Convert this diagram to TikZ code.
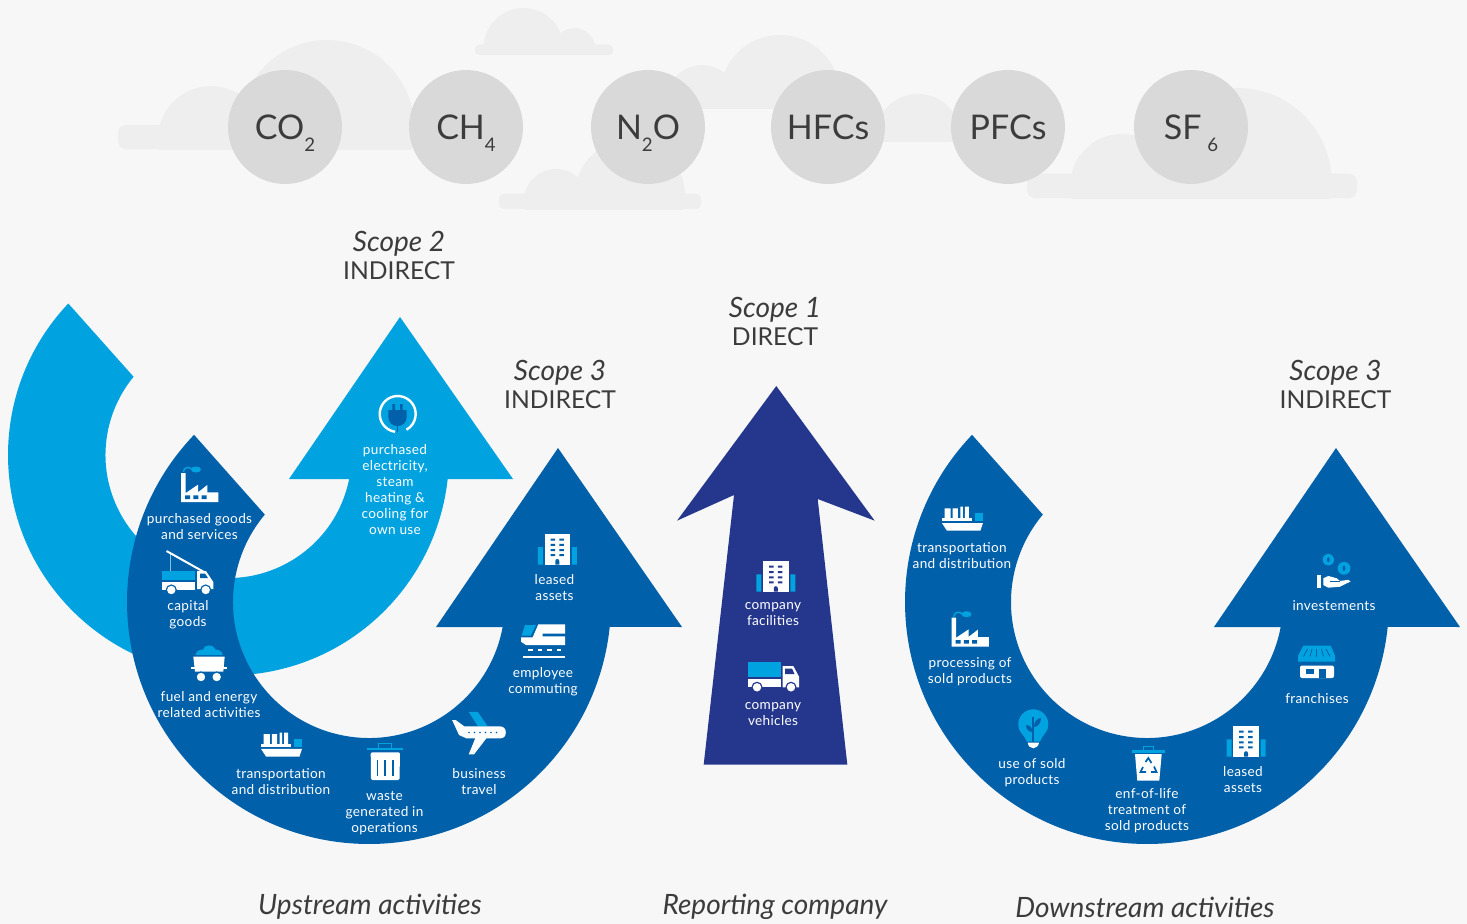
\documentclass[tikz,border=0pt]{standalone}
\usepackage{fontspec}
\setmainfont{Lato}
\newfontfamily\lblfont[LetterSpace=2.5]{Lato}
\definecolor{bgc}{HTML}{F7F7F7}
\definecolor{cloudc}{HTML}{EEEEEE}
\definecolor{gasc}{HTML}{D9D9D9}
\definecolor{txtc}{HTML}{3C3C3C}
\definecolor{darkb}{HTML}{0060AA}
\definecolor{lightb}{HTML}{00A3E0}
\definecolor{indigo}{HTML}{25378D}
\newcommand{\gassub}[1]{\smash{\raisebox{-0.36em}{\fontsize{14}{14}\selectfont #1}}}
\tikzset{
  gas/.style={circle,fill=gasc,minimum size=114*0.75pt,inner sep=0pt,text=txtc,font=\fontsize{25.5}{28}\selectfont},
  lbl/.style={text=white,align=center,inner sep=0pt,font=\lblfont\fontsize{10.2}{12}\selectfont},
  scopet/.style={text=txtc,align=center,inner sep=0pt,font=\fontsize{18.5}{21}\selectfont},
  foot/.style={text=txtc,inner sep=0pt,font=\itshape\fontsize{21}{24}\selectfont},
  cloud/.style={fill=cloudc},
  factoryicon/.pic={
    \fill[white] (0,0)--(0,-29)--(4.7,-29)--(4.7,-9)--(17,-17.3)--(17,-9.7)--(26.3,-17)--(26.3,-9.7)--(37.3,-9.7)--(37.3,0)--cycle;
    \fill[darkb] (4,-6.7) rectangle (9,-3) (12.3,-6.7) rectangle (17.3,-3) (20.7,-6.7) rectangle (25.7,-3);
    \draw[lightb,line width=1.1pt] (2.3,-30) .. controls (3,-35) and (8,-36) .. (11,-32.5);
    \fill[lightb] (15,-32.5) ellipse [x radius=5,y radius=3];
  },
  shipicon/.pic={
    \fill[white] (0,-12.3) rectangle (30,-9.7);
    \fill[white] (2.6,-22.3) rectangle (8.8,-12) (10.8,-22.3) rectangle (16,-12) (18.5,-24) rectangle (21,-12) (23,-24) rectangle (27,-12);
    \fill[lightb] (33,-17.3) rectangle (41,-9.7);
    \fill[white] (0,-7.7)--(41,-7.7)--(38.5,0)--(5,0)--cycle;
  },
  buildingicon/.pic={
    \fill[lightb] (-19.5,-17.3) rectangle (-14.5,0) (14.5,-17.3) rectangle (19.5,0);
    \fill[white] (-12.8,-31) rectangle (12.8,0);
    \foreach \yy in {-26,-20.7,-15.4,-10.3}{
      \fill[#1] (-6.8,\yy) rectangle (-2.3,\yy+2) (2,\yy) rectangle (6.5,\yy+2);}
    \fill[#1] (-2,0)--(-2,-3.5) arc[start angle=180,end angle=360,radius=2]--(2,0)--cycle;
  },
  wheelicon/.pic={
    \fill[#1] (0,0) circle (5.6);
    \fill[white] (0,0) circle (4.2);
  },
}
\begin{document}
\begin{tikzpicture}[x=0.75pt,y=-0.75pt]
\path[use as bounding box,fill=bgc] (0,0) rectangle (1467,924);

% clouds
\begin{scope}
  \clip (0,0) rectangle (1467,149);
  \fill[cloud] (327,127) circle (87);
  \fill[cloud] (211,139) circle (53);
\end{scope}
\fill[cloud,rounded corners=8*0.75pt] (118,125) rectangle (416,149);
\begin{scope}
  \clip (0,0) rectangle (1467,55);
  \fill[cloud] (523.6,48) circle (40);
  \fill[cloud] (574.5,49) circle (21);
\end{scope}
\fill[cloud,rounded corners=4*0.75pt] (475,44.7) rectangle (613,55);
\begin{scope}
  \clip (0,0) rectangle (1467,209);
  \fill[cloud] (630,195) circle (55);
  \fill[cloud] (556,201) circle (32);
\end{scope}
\fill[cloud,rounded corners=5*0.75pt] (499,193.7) rectangle (701,209);
\begin{scope}
  \clip (0,0) rectangle (1467,108);
  \fill[cloud] (780,95) circle (60);
  \fill[cloud] (702,100) circle (35);
\end{scope}
\fill[cloud] (690,95) rectangle (800,108);
\begin{scope}
  \clip (0,0) rectangle (1467,141);
  \fill[cloud] (918,137) circle (43);
\end{scope}
\begin{scope}
  \clip (0,0) rectangle (1467,198);
  \fill[cloud] (1237.6,182) circle (94);
  \fill[cloud] (1122,186) circle (52);
\end{scope}
\fill[cloud,rounded corners=8*0.75pt] (1027,173.7) rectangle (1357,198);

% gases
\node[gas] (co2) at (285,127) {CO\gassub{2}};
\node[gas] (ch4) at (466,127) {CH\gassub{4}};
\node[gas] (n2o) at (648,127) {N\gassub{2}O};
\node[gas] (hfc) at (828,127) {HFCs};
\node[gas] (pfc) at (1008,127) {PFCs};
\node[gas] (sf6) at (1191,127) {SF\,\gassub{6}};

% light arrow
\fill[lightb] ([shift={(228.5,455)}]223.4:220.5) arc[start angle=223.4,end angle=6.25,radius=220.5]
  -- (513,479) -- (400,317) -- (289,479) -- (351,479)
  -- ([shift={(228.5,455)}]11.2:123) arc[start angle=11.2,end angle=219.5,radius=123] -- cycle;

% dark U arrows
\foreach \sx/\nm in {0/u,778/d}{
\begin{scope}[shift={(\sx,0)}]
\fill[darkb] ([shift={(369,602)}]223.7:242) arc[start angle=223.7,end angle=5.9,radius=242]
  -- (682,627) -- (558,448) -- (436,627) -- (503.5,627)
  -- ([shift={(369,602)}]10.6:136) arc[start angle=10.6,end angle=220,radius=136] -- cycle;
\end{scope}}

% central arrow
\fill[indigo] (776.3,386)--(874.7,520.7)--(817.7,499)--(847.3,764.5)--(703.7,764.5)--(734,495)--(677,520.7)--cycle;

% titles
\node[scopet] (s2) at (399,255) {{\itshape\fontsize{21}{21}\selectfont Scope 2}\\INDIRECT};
\node[scopet] (s1) at (775,321) {{\itshape\fontsize{21}{21}\selectfont Scope 1}\\DIRECT};
\node[scopet] (s3a) at (560,384) {{\itshape\fontsize{21}{21}\selectfont Scope 3}\\INDIRECT};
\node[scopet] (s3b) at (1335.5,384) {{\itshape\fontsize{21}{21}\selectfont Scope 3}\\INDIRECT};

% footers
\node[foot] (fu) at (370,907) {Upstream activities};
\node[foot] (fr) at (775,907) {Reporting company};
\node[foot] (fd) at (1145,907) {Downstream activities};

% labels
\node[lbl] (l1) at (395,490) {purchased\\electricity,\\steam\\heating \&\\cooling for\\own use};
\node[lbl] (l2) at (199.5,527) {purchased goods\\and services};
\node[lbl] (l3) at (188,615) {capital\\goods};
\node[lbl] (l4) at (209,705) {fuel and energy\\related activities};
\node[lbl] (l5) at (281,782) {transportation\\and distribution};
\node[lbl] (l6) at (384.5,813) {waste\\generated in\\operations};
\node[lbl] (l7) at (479,782) {business\\travel};
\node[lbl] (l8) at (543,682) {employee\\commuting};
\node[lbl] (l9) at (554.5,588) {leased\\assets};
\node[lbl] (l10) at (773,614) {company\\facilities};
\node[lbl] (l11) at (773,714) {company\\vehicles};
\node[lbl] (r1) at (962,556) {transportation\\and distribution};
\node[lbl] (r2) at (970,672) {processing of\\sold products};
\node[lbl] (r3) at (1032,773) {use of sold\\products};
\node[lbl] (r4) at (1147,811) {enf-of-life\\treatment of\\sold products};
\node[lbl] (r5) at (1243,780) {leased\\assets};
\node[lbl] (r6) at (1317,699) {franchises};
\node[lbl] (r7) at (1334,606) {investements};

% plug icon
\draw[white,line width=1.8pt] ([shift={(397.7,414)}]98.6:18) arc[start angle=98.6,end angle=421,radius=18];
\fill[darkb] (392.3,404) rectangle (395,410) (400,404) rectangle (402.7,410);
\fill[darkb] (388.3,410)--(406.7,410)--(406.7,417) .. controls (406.7,423) and (402,426) .. (397.5,426) .. controls (393,426) and (388.3,423) .. (388.3,417)--cycle;
\fill[darkb] (396.6,425) rectangle (398.4,431.7);

% icons repeated
\pic at (181,502) {factoryicon};
\pic at (951.5,646.7) {factoryicon};
\pic at (261,756.5) {shipicon};
\pic at (941.9,530.7) {shipicon};
\pic at (557.3,564.5) {buildingicon=darkb};
\pic at (1246,756.7) {buildingicon=darkb};
\pic at (775.8,591.7) {buildingicon=indigo};

% capital goods truck
\draw[gasc!60!lightb,line width=0.7pt] (170,553) -- (170,571);
\draw[white,line width=1.5pt] (166.5,551) -- (204,572);
\fill[lightb] (162,571) rectangle (195,580);
\fill[white] (162,582) rectangle (195,590);
\fill[white] (197,571)--(206,571)--(213.3,582)--(213.3,589)--(197,589)--cycle;
\fill[darkb] (200,573.5)--(205,573.5)--(208,578)--(200,578)--cycle;
\pic at (171.3,590) {wheelicon=darkb};
\pic at (205.7,590) {wheelicon=darkb};

% company truck
\fill[lightb] (748,662) rectangle (781,677.3);
\fill[white] (748,679.3) rectangle (781,687.3);
\fill[white] (782.7,666)--(793.3,666)--(799,676.7)--(799,687.3)--(782.7,687.3)--cycle;
\fill[indigo] (785,668.5)--(792,668.5)--(794.5,674)--(785,674)--cycle;
\pic at (757,687.3) {wheelicon=indigo};
\pic at (791,687.3) {wheelicon=indigo};

% mine cart
\fill[lightb] (195.7,655) .. controls (196,650) and (201,650) .. (203,649.5) .. controls (204,644) and (214,644) .. (215.5,649.5) .. controls (218,649.5) and (222.5,651) .. (222.7,655) -- cycle;
\fill[white] (193.3,656.7)--(224.7,656.7)--(223.3,671.7)--(195,671.7)--cycle;
\fill[white] (191,667) rectangle (227,668.7);
\pic at (201,677) {wheelicon=darkb};
\pic at (216.7,677) {wheelicon=darkb};

% plane
\fill[lightb] (468.7,711.8)--(477.7,711.8)--(487.5,726)--(477.7,726)--cycle;
\fill[white] (452.2,720.2)--(456,720.2)--(464.3,726.4)--(500,726.4) .. controls (504,726.4) and (505.8,729) .. (505.8,732.5) .. controls (505.8,736) and (504,738.4) .. (500,738.4)--(466.5,738.4)--(459,735)--cycle;
\fill[white] (475.4,738)--(486.6,738)--(474,754.4)--(468.7,754.4)--cycle;
\foreach \xx in {469,474.5,480,485.5,491,496.5}{\fill[darkb] (\xx,732.5) circle (0.9);}

% train
\fill[lightb] (525,625)--(536,625)--(530.7,635.7)--(521.7,635.7)--cycle;
\fill[white] (538.3,624.3)--(565,624.3)--(565,633.7)--(542.7,633.7)--(542.7,636.3)--(565,636.3)--(565,645)--(526,645)--(521,641.7)--(521,637.3)--(532.7,637.3)--cycle;
\foreach \xx in {528.3,537.7,547.3,556.7}{\fill[white] (\xx,649) rectangle (\xx+4.4,651);}
\fill[white] (522.7,655.7) rectangle (565,657.7);

% bin
\fill[lightb] (366.5,748.3) rectangle (403.3,750);
\draw[lightb,line width=0.9pt] (378.3,748.3) -- (378.3,743.5) -- (391.7,743.5) -- (391.7,748.3);
\fill[white,rounded corners=1pt] (370.7,752.3)--(400,752.3)--(399.5,780)--(371,780)--cycle;
\foreach \xx in {377.3,385,392.7}{\fill[darkb] (\xx-0.8,760) rectangle (\xx+0.8,775.7);}

% recycle bin
\fill[lightb] (1131.7,750) rectangle (1165,752.7);
\draw[lightb,line width=0.9pt] (1143.3,750) -- (1143.3,746.2) -- (1153.3,746.2) -- (1153.3,750);
\fill[white] (1135,754)--(1161.7,754)--(1159.3,780.7)--(1137.3,780.7)--cycle;
\draw[darkb,line width=1.3pt] (1145.5,762)--(1148.3,758)--(1151.5,763) (1154,766.5)--(1156.5,772)--(1151,772) (1146,772)--(1140.5,772)--(1143,767);

% bulb
\fill[lightb] (1026.7,741.7) .. controls (1025,735) and (1018.3,733) .. (1018.3,724.3) arc[start angle=180,end angle=360,radius=15] .. controls (1048.3,733) and (1041.7,735) .. (1040,741.7) -- cycle;
\fill[white] (1027.7,742.7)--(1039,742.7) .. controls (1038.5,746) and (1036,748.3) .. (1033.3,748.3) .. controls (1030.5,748.3) and (1028.2,746) .. (1027.7,742.7) -- cycle;
\fill[darkb] (1032.3,716.7) rectangle (1034.3,741.5);
\fill[darkb] (1034,727) .. controls (1034,721) and (1037,718.5) .. (1041,718) .. controls (1041,723) and (1038,727) .. (1034,727) -- cycle;
\fill[darkb] (1032.6,732) .. controls (1032.6,728) and (1030,725) .. (1026,725) .. controls (1026,729) and (1028.5,732) .. (1032.6,732) -- cycle;

% coins and hand
\fill[lightb] (1328.3,559.7) circle (5.7) (1344,568.3) circle (6.4);
\fill[darkb] (1328.3,559.7) ellipse [x radius=1.3,y radius=2.6];
\fill[darkb] (1344,568.3) ellipse [x radius=1.4,y radius=2.8];
\fill[white] (1317.3,575) rectangle (1320.7,587.7);
\fill[white] (1323.3,578.3)--(1328.3,576)--(1336.7,578.3)--(1340,581)--(1348.3,579.8)--(1350.5,581.5)--(1340,586.7)--(1328.3,587.7)--(1323.3,585)--cycle;
\draw[darkb,line width=0.5pt] (1330,581.5)--(1339.5,581.5);

% shop
\fill[lightb] (1303.3,645.7)--(1330.7,645.7)--(1335,655.7)--(1335,661.7)--(1298,661.7)--(1298,655.7)--cycle;
\foreach \ta/\tb in {1307.5/1303.5,1312/1310,1316.7/1316.7,1321.5/1323.5,1326/1330}{\draw[darkb,line width=0.6pt] (\ta,649) -- (\tb,656.5);}
\fill[white,rounded corners=1.5pt] (1300,665.5) rectangle (1334,678);
\fill[darkb] (1306,669) rectangle (1314,674);
\fill[darkb] (1319.3,669) rectangle (1326,678);
\end{tikzpicture}
\end{document}
